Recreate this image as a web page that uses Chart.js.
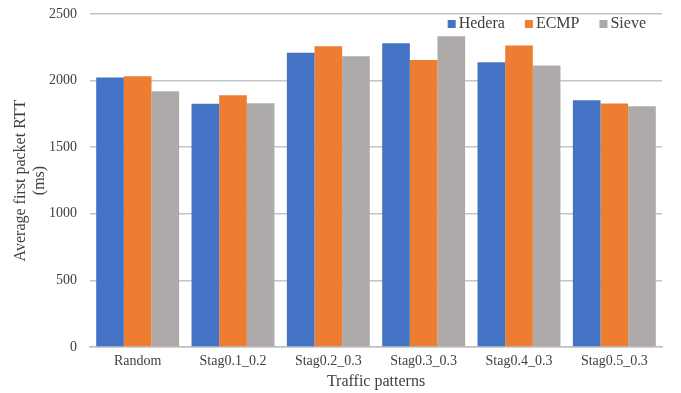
<!DOCTYPE html>
<html>
<head>
<meta charset="utf-8">
<script src="https://cdn.jsdelivr.net/npm/chart.js@4.4.0/dist/chart.umd.min.js"></script>
<style>
  html, body { margin: 0; padding: 0; background: #fff; }
  #wrap { width: 681px; height: 393px; }
</style>
</head>
<body>
<div id="wrap"><canvas id="chart"></canvas></div>
<script>
// DATA
const patterns = ["Random", "Stag0.1_0.2", "Stag0.2_0.3", "Stag0.3_0.3", "Stag0.4_0.3", "Stag0.5_0.3"];
const hedera = [2023, 1827, 2210, 2280, 2138, 1853];
const ecmp = [2033, 1890, 2258, 2155, 2263, 1828];
const sieve = [1920, 1830, 2183, 2333, 2113, 1808];
const yTicks = [0, 500, 1000, 1500, 2000, 2500];

const font = "'Liberation Serif', 'Times New Roman', serif";

// legend inside the plot, top right
const insideLegend = {
  id: "insideLegend",
  afterDraw(chart) {
    const c = chart.ctx;
    const area = chart.chartArea;
    c.save();
    c.font = "16px " + font;
    c.textBaseline = "middle";
    const items = chart.data.datasets.map(ds => ({ text: ds.label, color: ds.backgroundColor }));
    const box = 8, gap = 3, spacing = 20;
    let total = 0;
    items.forEach((it, i) => {
      it.w = c.measureText(it.text).width;
      total += box + gap + it.w + (i < items.length - 1 ? spacing : 0);
    });
    let x = area.right - 16 - total;
    const y = area.top + 10;
    items.forEach(it => {
      c.fillStyle = it.color;
      c.fillRect(x, y - box / 2, box, box);
      x += box + gap;
      c.fillStyle = "#404040";
      c.fillText(it.text, x, y);
      x += it.w + spacing;
    });
    c.restore();
  }
};

const ctx = document.getElementById("chart").getContext("2d");
new Chart(ctx, {
  type: "bar",
  data: {
    labels: patterns,
    datasets: [
      { label: "Hedera", data: hedera, backgroundColor: "#4472C4" },
      { label: "ECMP", data: ecmp, backgroundColor: "#ED7D31" },
      { label: "Sieve", data: sieve, backgroundColor: "#AEAAAA" }
    ]
  },
  options: {
    responsive: true,
    maintainAspectRatio: false,
    animation: false,
    layout: { padding: { top: 14, right: 19, left: 0, bottom: 2 } },
    datasets: { bar: { categoryPercentage: 0.87, barPercentage: 1.0 } },
    plugins: {
      legend: { display: false },
      tooltip: { enabled: false }
    },
    scales: {
      x: {
        afterFit: axis => { axis.height = 44; },
        grid: { display: false, drawTicks: false },
        border: { color: "#BFBFBF", width: 1.5 },
        ticks: { color: "#404040", font: { family: font, size: 14 }, padding: 6 },
        title: {
          display: true,
          text: "Traffic patterns",
          color: "#404040",
          font: { family: font, size: 16 },
          padding: { top: 2, bottom: 0 }
        }
      },
      y: {
        min: 0,
        max: 2500,
        afterBuildTicks: axis => { axis.ticks = yTicks.map(v => ({ value: v })); },
        afterFit: axis => {
          axis.width = 90;
          axis.paddingTop = 0;
          axis.paddingBottom = 0;
        },
        grid: { color: "#C4C4C4", lineWidth: 1.5, drawTicks: false },
        border: { display: false },
        ticks: {
          color: "#404040",
          font: { family: font, size: 14 },
          padding: 13,
          callback: v => String(v)
        },
        title: {
          display: true,
          text: ["Average first packet RTT", "(ms)"],
          color: "#404040",
          font: { family: font, size: 16, lineHeight: 1.15 },
          padding: { top: 12, bottom: 0 }
        }
      }
    }
  },
  plugins: [insideLegend]
});
</script>
</body>
</html>
